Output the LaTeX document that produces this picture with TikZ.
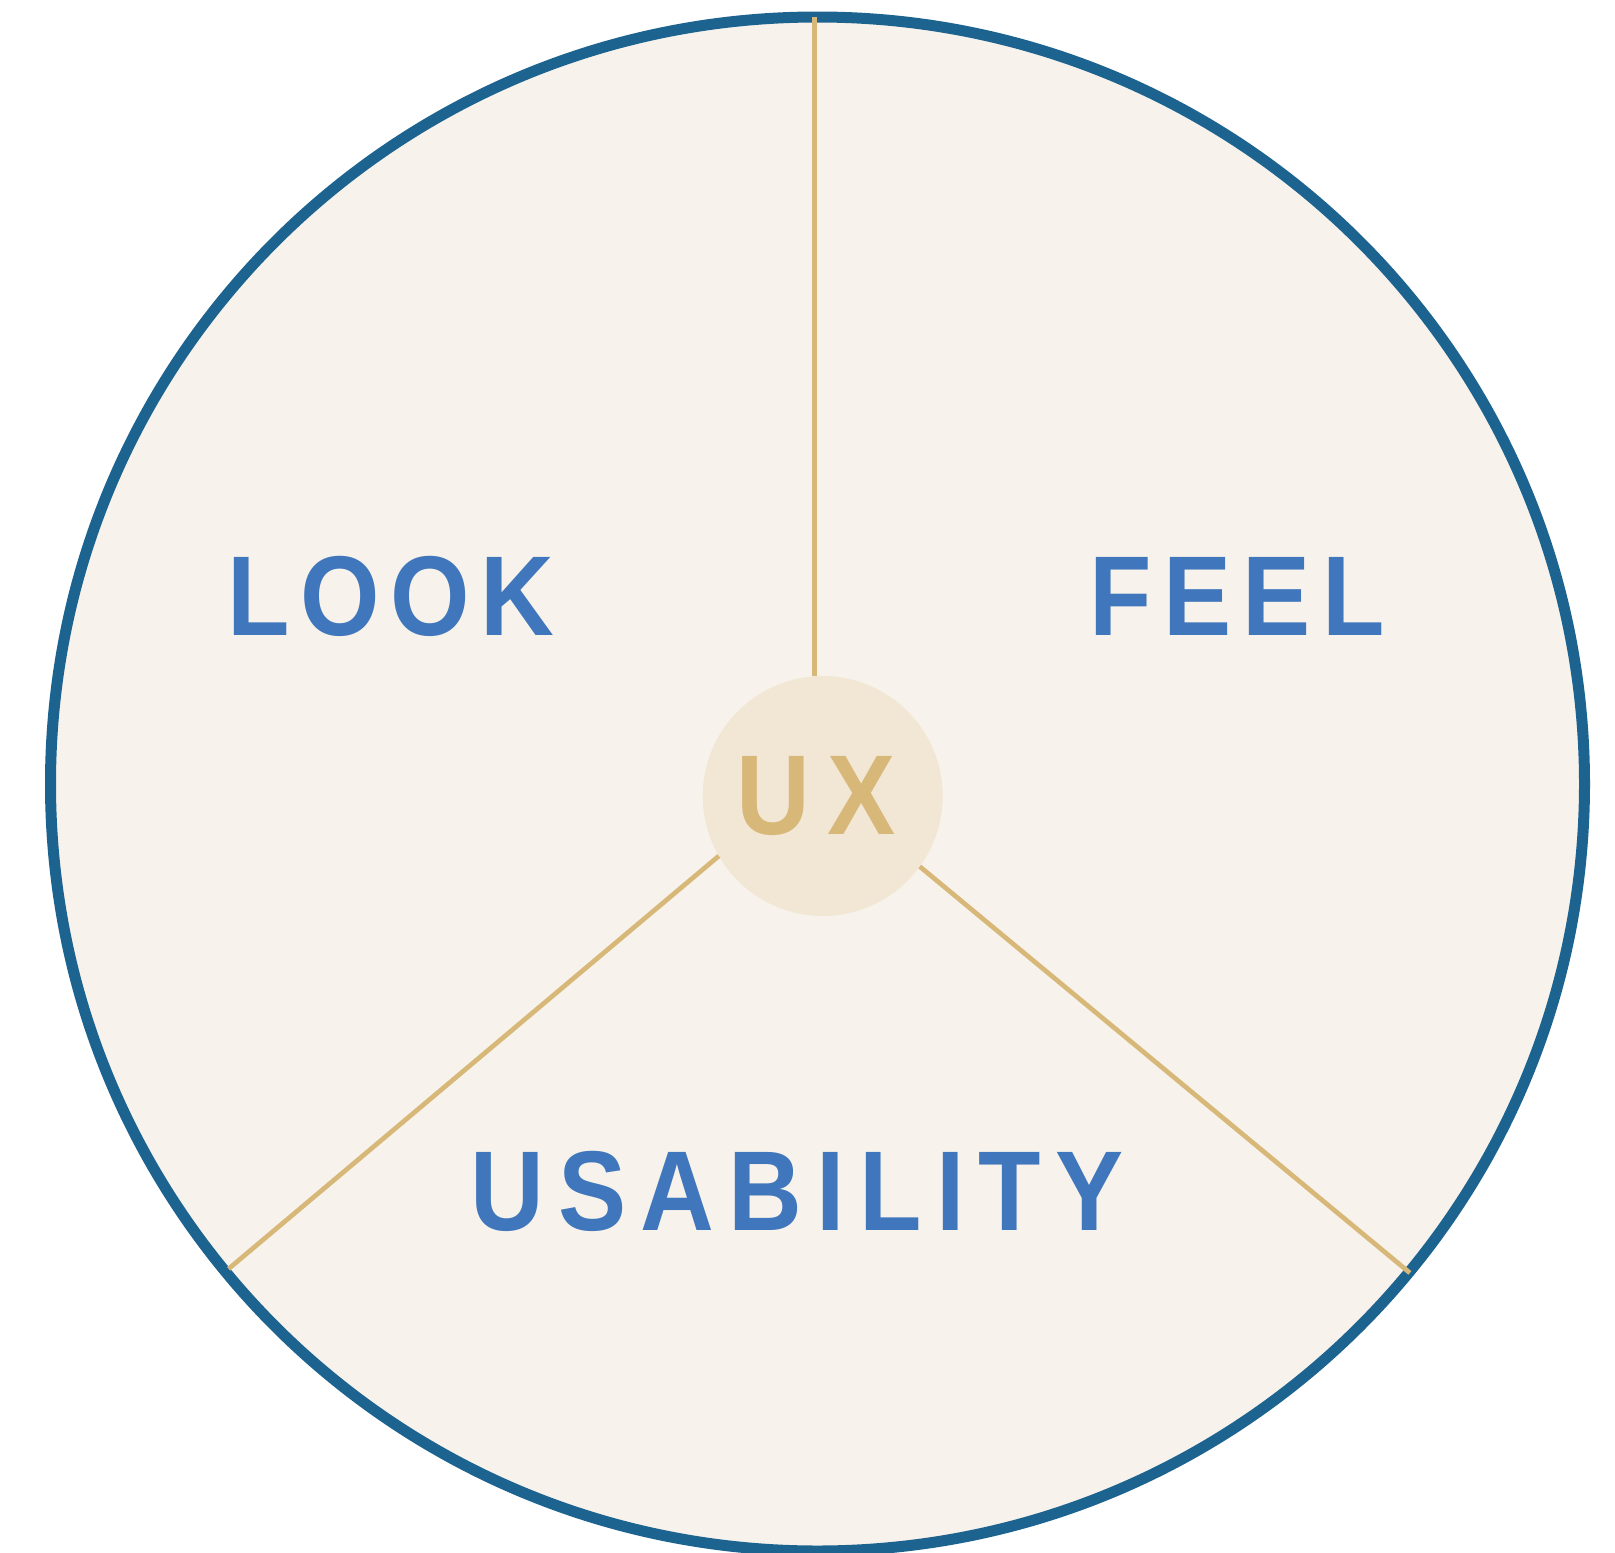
\documentclass[tikz,border=0pt]{standalone}
\usepackage{fontspec}
\setmainfont{Liberation Sans}
\definecolor{rimblue}{HTML}{1D6390}
\definecolor{wheelfill}{HTML}{F7F3EC}
\definecolor{hubfill}{HTML}{F2E7D5}
\definecolor{spokegold}{HTML}{D8B878}
\definecolor{wordblue}{HTML}{4076BB}
\newcommand\wordfont[1]{\fontsize{113.5}{116}\selectfont\bfseries\addfontfeatures{FakeStretch=0.9,LetterSpace=#1}}

\begin{document}
\begin{tikzpicture}[x=1pt,y=-1pt,
    word/.style={anchor=base, inner sep=0pt, text=wordblue},
    spoke/.style={draw=spokegold, line width=4.7pt}]
        \useasboundingbox (0,0) rectangle (1615,1553);

        % the wheel and its hub
        \node[circle, draw=rimblue, fill=wheelfill, line width=11pt, minimum size=1534pt,
              inner sep=0pt, outer sep=0pt] (rim) at (817.5,784) {};
        \node[circle, fill=hubfill, minimum size=240pt, inner sep=0pt, outer sep=0pt] (ux) at (822.7,796) {};

        % spokes out to the rim
        \coordinate (lowleft) at (228.6,1268.8);
        \coordinate (lowright) at (1409.9,1272.9);
        \draw[spoke] (ux.94) -- (ux.94 |- rim.north);
        \draw[spoke] (ux.210) -- (lowleft);
        \draw[spoke] (ux.324) -- (lowright);

        \node[word, text=spokegold, font=\wordfont{14.5}] (uxlabel) at (816,834) {UX};

        \node[word, font=\wordfont{9.2}] (look) at (391,635) {LOOK};
        \node[word, font=\wordfont{9.9}] (feel) at (1237,635) {FEEL};
        \node[word, font=\wordfont{12.6}] (usability) at (797,1230) {USABILITY};
\end{tikzpicture}
\end{document}
